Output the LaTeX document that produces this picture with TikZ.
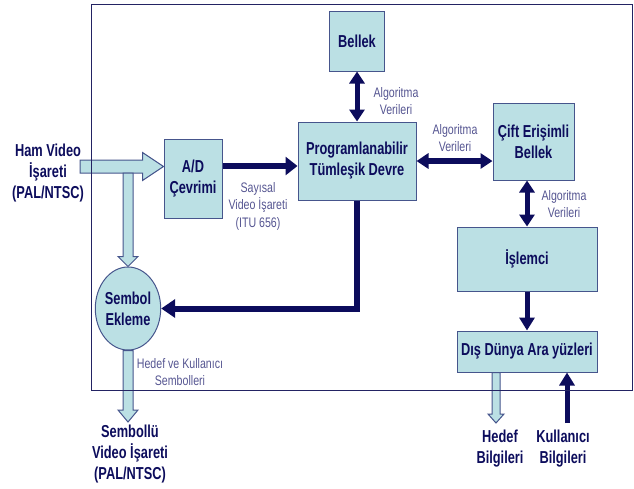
\documentclass[tikz,border=0pt]{standalone}
\usepackage{fontspec}
\setmainfont{Liberation Sans}
\newfontfamily\boldfont[FakeStretch=0.74]{Liberation Sans Bold}
\newfontfamily\thinfont[FakeStretch=0.77]{Liberation Sans}
\usetikzlibrary{arrows.meta,shapes.geometric,calc}

\definecolor{boxfill}{RGB}{187,224,228}
\definecolor{boxline}{RGB}{70,85,140}
\definecolor{navy}{RGB}{12,12,92}
\definecolor{labtext}{RGB}{85,85,145}

\tikzset{
  block/.style={draw=boxline, fill=boxfill, line width=1pt, align=center, inner sep=0pt,
    font=\boldfont\fontsize{17.3}{21}\selectfont, text=navy},
  biglab/.style={align=center, font=\boldfont\fontsize{17.3}{21}\selectfont, text=navy},
  lab/.style={align=center, font=\thinfont\fontsize{13.8}{17.5}\selectfont, text=labtext},
  bus/.style={draw=navy, line width=5pt, -{Triangle[length=13pt,width=15pt]}},
  bibus/.style={draw=navy, line width=5pt, {Triangle[length=12pt,width=15pt]}-{Triangle[length=12pt,width=15pt]}},
  hollow/.style={draw=boxline, fill=boxfill, line width=1pt, line join=miter}
}

\begin{document}
\begin{tikzpicture}[x=1pt,y=-1pt]
\useasboundingbox (0,0) rectangle (634,488);

% blocks
\node [block, minimum width=55pt, minimum height=60pt] (bellek) at (357,41) {Bellek};
\node [block, minimum width=118pt, minimum height=78pt] (prog) at (357,161) {Programlanabilir\\Tümleşik Devre};
\node [block, minimum width=81pt, minimum height=77pt] (cift) at (533.5,141.5) {Çift Erişimli\\Bellek};
\node [block, minimum width=58pt, minimum height=79pt] (ad) at (193,178.5) {A/D\\Çevrimi};
\node [block, minimum width=140pt, minimum height=64pt] (islemci) at (527,259) {İşlemci};
\node [block, minimum width=140pt, minimum height=41pt] (dis) at (527,351.5) {Dış Dünya Ara yüzleri};
\node [block, ellipse, minimum width=62pt, minimum height=83pt] (sembol) at (128,308.5) {Sembol\\Ekleme};

% outside texts
\node [biglab] (ham) at (48,173) {Ham Video\\İşareti\\(PAL/NTSC)};
\node [biglab] (cikis) at (130,454) {Sembollü\\Video İşareti\\(PAL/NTSC)};
\node [biglab] (hedef) at (500,449) {Hedef\\Bilgileri};
\node [biglab] (kullanici) at (563,449) {Kullanıcı\\Bilgileri};

% small labels
\node [lab] (lab_bellek) at (396,101) {Algoritma\\Verileri};
\node [lab] (lab_cift) at (455,138) {Algoritma\\Verileri};
\node [lab] (lab_islemci) at (564,204) {Algoritma\\Verileri};
\node [lab] (lab_sayisal) at (258,206) {Sayısal\\Video İşareti\\(ITU 656)};
\node [lab] (lab_sembol) at (180,372) {Hedef ve Kullanıcı\\Sembolleri};

% hollow arrows
\coordinate (hamtip) at ($(ad.west)+(0,-12)$);
\draw[hollow] (80,160) -- ($(hamtip)+(-21,-6.5)$) -- ($(hamtip)+(-21,-14)$) -- (hamtip)
  -- ($(hamtip)+(-21,14)$) -- ($(hamtip)+(-21,6.5)$) -- (80,173) -- cycle;
\draw[hollow] (123,173) -- ($(sembol.north)+(-5,-10)$) -- ($(sembol.north)+(-10,-10)$) -- (sembol.north)
  -- ($(sembol.north)+(10,-10)$) -- ($(sembol.north)+(5,-10)$) -- (133,173) -- cycle;

\coordinate (cikistip) at (128,422);
\draw[hollow] ($(sembol.south)+(-5,0)$) -- ($(cikistip)+(-5,-12)$) -- ($(cikistip)+(-10,-12)$) -- (cikistip)
  -- ($(cikistip)+(10,-12)$) -- ($(cikistip)+(5,-12)$) -- ($(sembol.south)+(5,0)$) -- cycle;

\coordinate (hedeftip) at (496,423);
\draw[hollow] ($(hedeftip |- dis.south)+(-4,0)$) -- ($(hedeftip)+(-4,-9)$) -- ($(hedeftip)+(-8,-9)$) -- (hedeftip)
  -- ($(hedeftip)+(8,-9)$) -- ($(hedeftip)+(4,-9)$) -- ($(hedeftip |- dis.south)+(4,0)$) -- cycle;

% thick arrows
\draw[bibus] (bellek.south) -- (prog.north);
\draw[bibus, line width=6pt] (prog.east) -- (prog.east -| cift.west);
\draw[bibus] (islemci.north) -- (islemci.north |- cift.south);
\draw[bus, line width=6pt, -{Triangle[length=12pt,width=18pt]}] ($(ad.east)+(0,-12.5)$) coordinate (adout) -- (adout -| prog.west);
\draw[bus, line width=6pt, -{Triangle[length=14pt,width=18pt]}] (prog.south) |- (sembol.east);
\draw[bus] (islemci.south) -- (dis.north);
\coordinate (kultail) at (567,423);
\draw[bus] (kultail) -- (kultail |- dis.south);

% frame
\draw[navy!80!gray, line width=1pt] (91,4) rectangle (632,390);

\end{tikzpicture}
\end{document}
